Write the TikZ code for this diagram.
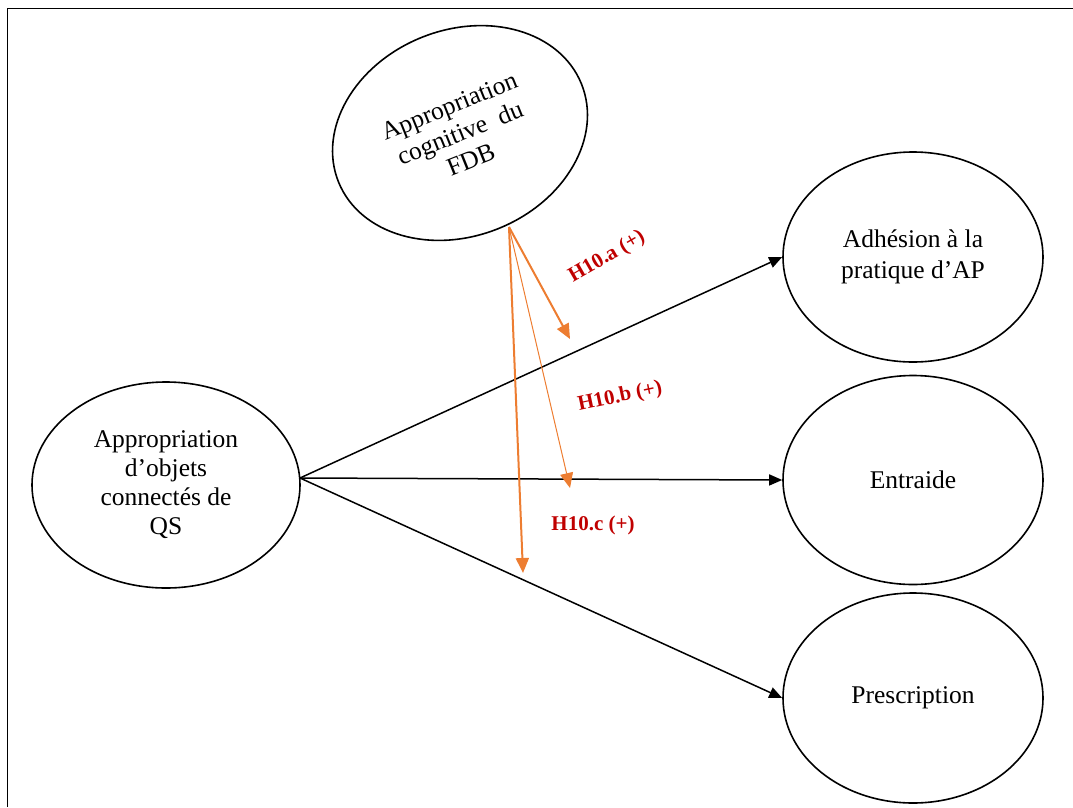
\documentclass[tikz,border=0pt]{standalone}
\usepackage{fontspec}
\setmainfont{Liberation Serif}
\usetikzlibrary{shapes.geometric,arrows.meta,calc}
\definecolor{arrorange}{HTML}{ED7D31}
\definecolor{labred}{HTML}{C00000}
\begin{document}
\begin{tikzpicture}[x=1pt,y=-1pt,
  oval/.style={ellipse,draw,line width=1.6pt,inner sep=0pt,align=center,
    font=\fontsize{25.5}{29}\selectfont},
  blackarrow/.style={-{Triangle[length=13pt,width=11pt]},line width=1.5pt},
  orangearrow/.style={draw=arrorange,-{Triangle[length=15pt,width=13pt]},line width=2pt},
  thinorange/.style={orangearrow,line width=1pt},
  hlabel/.style={text=labred,font=\fontsize{21}{24}\selectfont\bfseries}]
\useasboundingbox (0,0) rectangle (1073,807);
\draw[line width=1pt] (7,807) -- (7,8) -- (1073,8);

% nodes
\node[oval,minimum width=262pt,minimum height=206pt,rotate=22] (fdb) at (460,133)
  {Appropriation\\cognitive\ \ du\\FDB};
\node[oval,minimum width=268pt,minimum height=206pt] (qs) at (166,485)
  {Appropriation\\d’objets\\connectés de\\QS};
\node[oval,minimum width=260pt,minimum height=210pt,font=\fontsize{25.5}{31.5}\selectfont] (ad) at (913,257)
  {Adhésion à la\\pratique d’AP};
\node[oval,minimum width=260pt,minimum height=209pt] (en) at (913,480) {Entraide};
\node[oval,minimum width=260pt,minimum height=210pt] (pr) at (913,698) {Prescription};

% black paths
\coordinate (qsout) at (300,478);
\draw[blackarrow] (qsout) -- (ad.west);
\draw[blackarrow] (qsout) -- (en.west);
\draw[blackarrow] (qsout) -- (pr.west);

% orange moderating arrows
\coordinate (src) at (509,227);
\coordinate (ha) at (570,339);
\coordinate (hb) at (570,488);
\coordinate (hc) at (523,573);
\draw[orangearrow] (src) -- (ha);
\draw[thinorange] (src) -- (hb);
\draw[orangearrow] (src) -- (hc);

% labels
\node[hlabel,rotate=30] (la) at (607,257) {H10.a (+)};
\node[hlabel,rotate=12] (lb) at (620,397) {H10.b (+)};
\node[hlabel] (lc) at (593,525) {H10.c (+)};
\end{tikzpicture}
\end{document}
